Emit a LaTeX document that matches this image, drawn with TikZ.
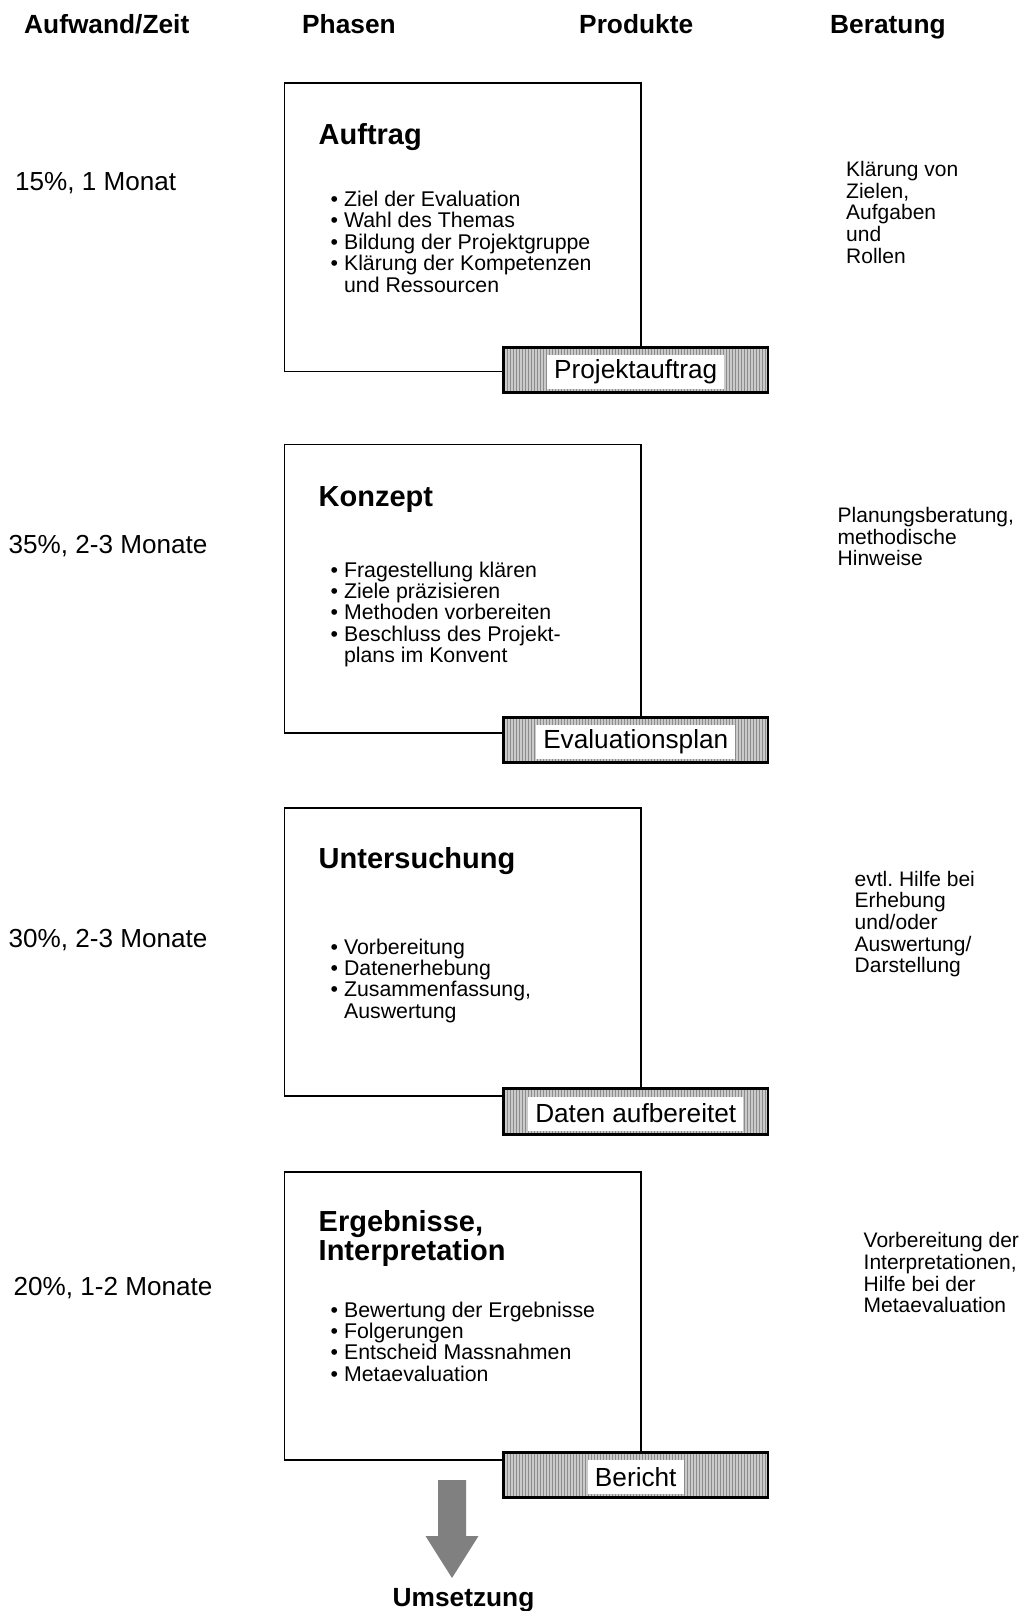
\documentclass[tikz,border=0pt]{standalone}
\usepackage{fontspec}
\setmainfont{Liberation Sans}
\frenchspacing
\usetikzlibrary{patterns}
\definecolor{HatchGray}{HTML}{CACACA}
\definecolor{LineGray}{HTML}{8C8C8C}
\definecolor{ArrowGray}{HTML}{808080}

\begin{document}
\begin{tikzpicture}[x=1pt,y=-1pt,
      colhead/.style={anchor=base west,inner sep=0,font=\bfseries\fontsize{26.3}{30}\selectfont},
      effort/.style={anchor=base west,inner sep=0,font=\fontsize{26.1}{30}\selectfont},
      phase/.style={draw=black,line width=1.9pt,fill=white,inner sep=0,
                    minimum width=356.2pt,minimum height=288.5pt},
      phasetitle/.style={anchor=base west,inner sep=0,align=left,
                         font=\bfseries\fontsize{29}{29}\selectfont},
      items/.style={anchor=base west,inner sep=0,align=left,font=\fontsize{21.3}{21.4}\selectfont},
      product/.style={draw=black,line width=2.6pt,inner sep=0,minimum width=264.5pt,
                      minimum height=45.5pt,preaction={fill=HatchGray},
                      pattern=vertical lines,pattern color=LineGray},
      prodlabel/.style={fill=white,inner xsep=7pt,inner ysep=0,minimum height=34pt,
                        font=\fontsize{26.2}{30}\selectfont},
      advice/.style={anchor=base west,inner sep=0,align=left,font=\fontsize{21}{21.6}\selectfont},
    ]
    \useasboundingbox (0,0) rectangle (1026,1611);
    % Column heads
    \node[colhead] (hzeit)   at (24,34)  {Aufwand/Zeit};
    \node[colhead] (hphasen) at (302,34) {Phasen};
    \node[colhead] (hprod)   at (579,34) {Produkte};
    \node[colhead] (hberat)  at (830,34) {Beratung};

    % Effort / time
    \node[effort] (zeit1) at (15,190.7)  {15\%, 1 Monat};
    \node[effort] (zeit2) at (8.5,553.6) {35\%, 2-3 Monate};
    \node[effort] (zeit3) at (8.5,947)   {30\%, 2-3 Monate};
    \node[effort] (zeit4) at (13.5,1295) {20\%, 1-2 Monate};

    % Phases (multi-line nodes sit on their last baseline)
    \node[phase] (auftrag) at (462.6,227.25) {};
    \node[phasetitle] (tauftrag) at (318.5,144) {Auftrag};
    \node[items] (lauftrag) at (330.5,292.1)
        {\textbullet\ Ziel der Evaluation\\ \textbullet\ Wahl des Themas\\
         \textbullet\ Bildung der Projektgruppe\\ \textbullet\ Klärung der Kompetenzen\\
         \phantom{\textbullet\ }und Ressourcen};

    \node[phase] (konzept) at (462.6,588.75) {};
    \node[phasetitle] (tkonzept) at (318.5,506) {Konzept};
    \node[items] (lkonzept) at (330.5,662.6)
        {\textbullet\ Fragestellung klären\\ \textbullet\ Ziele präzisieren\\
         \textbullet\ Methoden vorbereiten\\ \textbullet\ Beschluss des Projekt-\\
         \phantom{\textbullet\ }plans im Konvent};

    \node[phase] (untersuchung) at (462.6,952) {};
    \node[phasetitle] (tuntersuchung) at (318.5,868.5) {Untersuchung};
    \node[items] (luntersuchung) at (330.5,1018.2)
        {\textbullet\ Vorbereitung\\ \textbullet\ Datenerhebung\\
         \textbullet\ Zusammenfassung,\\ \phantom{\textbullet\ }Auswertung};

    \node[phase] (ergebnisse) at (462.6,1316) {};
    \node[phasetitle] (tergebnisse) at (318.5,1260.7) {Ergebnisse,\\Interpretation};
    \node[items] (lergebnisse) at (330.5,1381.2)
        {\textbullet\ Bewertung der Ergebnisse\\ \textbullet\ Folgerungen\\
         \textbullet\ Entscheid Massnahmen\\ \textbullet\ Metaevaluation};

    % Products
    \node[product] (p1) at (635.75,370) {};
    \node[prodlabel] (l1) at ([yshift=-2pt]p1.center) {Projektauftrag};
    \node[product] (p2) at (635.75,740) {};
    \node[prodlabel] (l2) at ([yshift=-2pt]p2.center) {Evaluationsplan};
    \node[product] (p3) at (635.75,1111.5) {};
    \node[prodlabel] (l3) at ([yshift=-2pt]p3.center) {Daten aufbereitet};
    \node[product] (p4) at (635.75,1475) {};
    \node[prodlabel] (l4) at ([yshift=-2pt]p4.center) {Bericht};

    % Advice
    \node[advice] (b1) at (846,263.1)    {Klärung von\\Zielen,\\Aufgaben\\und\\Rollen};
    \node[advice] (b2) at (837.5,565.9)  {Planungsberatung,\\methodische\\Hinweise};
    \node[advice] (b3) at (854.5,972.7)  {evtl. Hilfe bei\\Erhebung\\und/oder\\Auswertung/\\Darstellung};
    \node[advice] (b4) at (863.5,1312.6) {Vorbereitung der\\Interpretationen,\\Hilfe bei der\\Metaevaluation};

    % Implementation
    \fill[ArrowGray] (438,1480) -- (466,1480) -- (466,1536) -- (478.5,1536)
        -- (452,1578) -- (425.5,1536) -- (438,1536) -- cycle;
    \node[colhead,anchor=base] (umsetzung) at (463.5,1606) {Umsetzung};
  \end{tikzpicture}
\end{document}
